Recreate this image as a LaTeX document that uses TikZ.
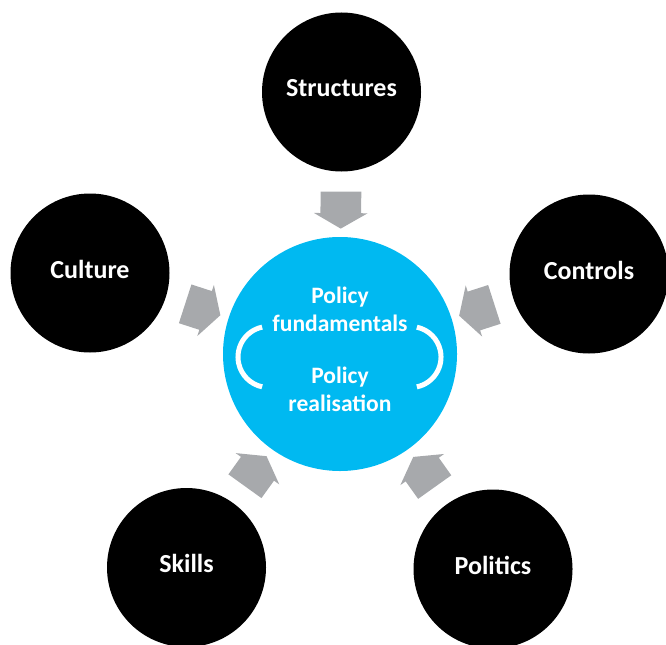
\documentclass[tikz,border=0pt]{standalone}
\usepackage{fontspec}
\setmainfont{Carlito}
\usepackage{tikz}
\usetikzlibrary{shapes.arrows}
\definecolor{policyblue}{HTML}{00B9F1}
\definecolor{arrowgray}{HTML}{A7A9AC}
\tikzset{
  factor/.style={circle, fill=black, text=white, minimum size=3.18cm, inner sep=0,
    text height=0.34cm, text depth=0.14cm,
    font=\fontsize{14.8}{17}\selectfont\bfseries},
  policy/.style={circle, fill=policyblue, minimum size=4.68cm, inner sep=0},
  policytext/.style={text=white, align=center, inner sep=0,
    font=\fontsize{13.4}{15.9}\selectfont\bfseries},
  blockarrow/.style={single arrow, fill=arrowgray, minimum height=0.74cm,
    inner xsep=0, inner ysep=0.4cm, single arrow head extend=0.13cm,
    single arrow tip angle=120, sloped, allow upside down, midway},
  bracket/.style={white, line width=0.1cm}
}
\begin{document}
\begin{tikzpicture}
\useasboundingbox (0,0) rectangle (13.32,-12.88);

\node[policy] (c) at (6.8,-7.08) {};
\node[policytext] (pf) at (6.8,-6.18) {Policy\\fundamentals};
\node[policytext] (pr) at (6.8,-7.78) {Policy\\realisation};
\draw[bracket] (5.243,-6.543) arc (102:258:0.61);
\draw[bracket] (8.337,-7.737) arc (-78:78:0.61);

\node[factor] (st) at (6.83,-1.84) {Structures};
\node[factor] (cu) at (1.8,-5.46) {Culture};
\node[factor] (co) at (11.78,-5.48) {Controls};
\node[factor] (sk) at (3.73,-11.35) {Skills};
\node[factor] (po) at (9.86,-11.38) {Politics};

\path (st) -- (c) node[blockarrow] {};
\path (cu) -- (c) node[blockarrow] {};
\path (co) -- (c) node[blockarrow] {};
\path (sk) -- (c) node[blockarrow] {};
\path (po) -- (c) node[blockarrow] {};

\end{tikzpicture}
\end{document}
